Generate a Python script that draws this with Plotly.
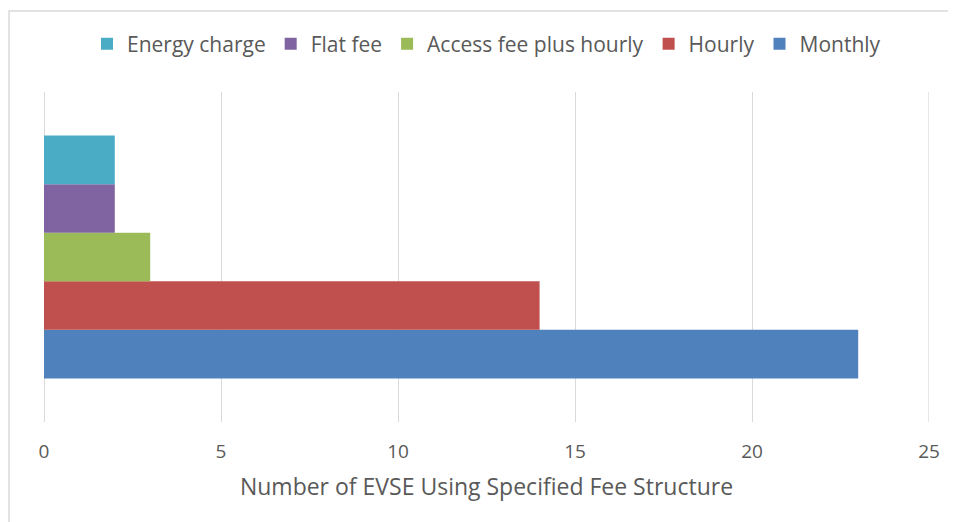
import plotly.graph_objects as go

category = [""]
series_names = ["Monthly", "Hourly", "Access fee plus hourly", "Flat fee", "Energy charge"]
monthly = [23]
hourly = [14]
access_fee_plus_hourly = [3]
flat_fee = [2]
energy_charge = [2]
x_ticks = [0, 5, 10, 15, 20, 25]

values = [monthly, hourly, access_fee_plus_hourly, flat_fee, energy_charge]
colors = ["#4F81BD", "#C0504D", "#9BBB59", "#8064A2", "#4BACC6"]

fig = go.Figure()
for name, vals, col in zip(series_names, values, colors):
    fig.add_trace(go.Bar(name=name, x=vals, y=category, orientation="h",
                         marker=dict(color=col, line=dict(width=0))))

font_fam = "Open Sans, Arial, sans-serif"
grid_col = "#D9D9D9"
fig.update_layout(
    width=948, height=514,
    barmode="group", bargap=0.264, bargroupgap=0,
    paper_bgcolor="white", plot_bgcolor="white",
    margin=dict(l=36, r=27, t=84, b=100, autoexpand=False),
    font=dict(family=font_fam, color="#595959", size=16),
    legend=dict(orientation="h", traceorder="reversed", x=0.5, xanchor="center",
                y=1.145, yanchor="middle", font=dict(size=21, color="#595959"),
                itemwidth=30, itemsizing="constant", tracegroupgap=0),
    xaxis=dict(range=[0, x_ticks[-1]], tickvals=x_ticks, showgrid=True, gridcolor=grid_col,
               gridwidth=1.3, zeroline=True, zerolinecolor=grid_col, zerolinewidth=1.3,
               showline=False, ticks="", ticklabelstandoff=16,
               tickfont=dict(size=19, color="#595959"),
               title=dict(text="Number of EVSE Using Specified Fee Structure",
                          font=dict(size=23, color="#595959"), standoff=15)),
    yaxis=dict(range=[-0.5, 0.5], showticklabels=False, showgrid=False,
               zeroline=False, showline=False, ticks=""),
    shapes=[dict(type="rect", xref="paper", yref="paper",
                 x0=-0.0395, x1=1.1, y0=-0.4, y1=1.2455,
                 line=dict(color=grid_col, width=1.5), fillcolor="rgba(0,0,0,0)",
                 layer="below"),
            dict(type="line", xref="x", yref="paper",
                 x0=x_ticks[-1], x1=x_ticks[-1], y0=0, y1=1,
                 line=dict(color=grid_col, width=1.3), layer="below")],
    showlegend=True,
)
fig.write_html("out.html")
